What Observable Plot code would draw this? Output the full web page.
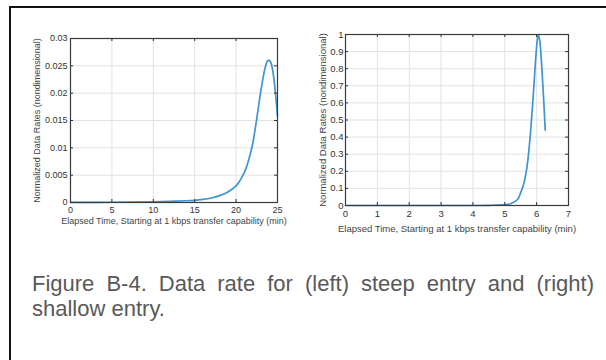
<!DOCTYPE html>
<html>
<head>
<meta charset="utf-8">
<script src="https://cdn.jsdelivr.net/npm/d3@7"></script>
<script src="https://cdn.jsdelivr.net/npm/@observablehq/plot@0.6"></script>
<style>
  body { margin: 0; background: #fff; }
  #page { position: relative; width: 606px; height: 360px; overflow: hidden; background: #fff;
          font-family: "Liberation Sans", Arial, sans-serif; }
  #frameTop { position: absolute; left: 9px; top: 6px; width: 597px; height: 2px; background: #111; }
  #frameLeft { position: absolute; left: 9px; top: 6px; width: 2px; height: 354px; background: #111; }
  #left { position: absolute; left: 20px; top: 25px; }
  #right { position: absolute; left: 300px; top: 20px; }
  #caption { position: absolute; left: 32px; top: 271px; width: 562px;
             font-family: "Liberation Sans Narrow", "Arial Narrow", sans-serif;
             font-size: 22px; line-height: 25px; color: #595959; text-align: justify; }
</style>
</head>
<body>
<div id="page">
  <div id="frameTop"></div>
  <div id="frameLeft"></div>
  <div id="left"></div>
  <div id="right"></div>
  <div id="caption"></div>
</div>
<script>
// ---------- data ----------
const leftTime = [0, 5, 10, 12, 14, 15, 16, 17, 18, 19, 20, 20.5, 21, 21.5, 22, 22.5, 23, 23.5, 23.8, 24, 24.2, 24.5, 24.8, 25];
const leftRate = [0.00002, 0.00005, 0.00012, 0.0002, 0.00032, 0.0004, 0.00057, 0.00083, 0.00125, 0.00194, 0.00305, 0.0041, 0.0055, 0.0077, 0.0107, 0.0154, 0.0205, 0.0246, 0.0259, 0.026, 0.0256, 0.0234, 0.0192, 0.0158];

const rightTime = [0, 1, 2, 3, 4, 4.5, 5, 5.2, 5.4, 5.5, 5.6, 5.7, 5.8, 5.9, 6.0, 6.05, 6.1, 6.15, 6.2, 6.27];
const rightRate = [0, 0, 0, 0, 0, 0.001, 0.005, 0.012, 0.035, 0.075, 0.13, 0.23, 0.41, 0.66, 0.93, 1.0, 0.96, 0.84, 0.69, 0.44];

const leftXTicks = [0, 5, 10, 15, 20, 25];
const leftYTicks = [0, 0.005, 0.01, 0.015, 0.02, 0.025, 0.03];
const leftYTickLabels = ["0", "0.005", "0.01", "0.015", "0.02", "0.025", "0.03"];

const rightXTicks = [0, 1, 2, 3, 4, 5, 6, 7];
const rightYTicks = [0, 0.1, 0.2, 0.3, 0.4, 0.5, 0.6, 0.7, 0.8, 0.9, 1];
const rightYTickLabels = ["0", "0.1", "0.2", "0.3", "0.4", "0.5", "0.6", "0.7", "0.8", "0.9", "1"];

const xLabel = "Elapsed Time, Starting at 1 kbps transfer capability (min)";
const yLabel = "Normalized Data Rates (nondimensional)";
const captionText = "Figure B-4. Data rate for (left) steep entry and (right) shallow entry.";

// ---------- chart builder ----------
function chart(o) {
  const data = o.time.map((t, i) => ({t, v: o.rate[i]}));
  const innerW = o.width - o.ml - o.mr;
  const innerH = o.height - o.mt - o.mb;
  const tick = 3;
  const fmt = d => o.yLabels[o.yTicks.indexOf(d)];
  return Plot.plot({
    width: o.width, height: o.height,
    marginLeft: o.ml, marginRight: o.mr, marginTop: o.mt, marginBottom: o.mb,
    style: {fontFamily: '"Liberation Sans", Arial, sans-serif', background: "transparent", overflow: "visible"},
    x: {domain: o.xDomain},
    y: {domain: o.yDomain},
    marks: [
      Plot.gridX(o.xTicks, {stroke: "#e2e2e2", strokeOpacity: 1}),
      Plot.gridY(o.yTicks, {stroke: "#e2e2e2", strokeOpacity: 1}),
      Plot.line(data, {x: "t", y: "v", stroke: "#3f95d3", strokeWidth: 1.7, curve: "catmull-rom"}),
      // inward ticks on four sides
      Plot.ruleX(o.xTicks, {x: d => d, insetTop: innerH - tick, stroke: "#333"}),
      Plot.ruleX(o.xTicks, {x: d => d, insetBottom: innerH - tick, stroke: "#333"}),
      Plot.ruleY(o.yTicks, {y: d => d, insetRight: innerW - tick, stroke: "#333"}),
      Plot.ruleY(o.yTicks, {y: d => d, insetLeft: innerW - tick, stroke: "#333"}),
      Plot.frame({stroke: "#3a3a3a", strokeWidth: 1.2}),
      Plot.axisX(o.xTicks, {tickSize: 0, tickPadding: o.xPad, fontSize: o.fs, fill: "#333", label: null}),
      Plot.axisY(o.yTicks, {tickSize: 0, tickPadding: o.yPad, fontSize: o.fs, fill: "#333", tickFormat: fmt, label: null}),
      Plot.text([xLabel], {frameAnchor: "bottom", dy: o.xLabDy, lineAnchor: "middle", text: d => d, fontSize: o.fs, fill: "#444"}),
      Plot.text([yLabel], {frameAnchor: "left", dx: o.yLabDx, rotate: -90, textAnchor: "middle", text: d => d, fontSize: o.fs, fill: "#444"})
    ]
  });
}

document.getElementById("left").append(chart({
  time: leftTime, rate: leftRate, xDomain: [0, 25], yDomain: [0, 0.03],
  xTicks: leftXTicks, yTicks: leftYTicks, yLabels: leftYTickLabels,
  width: 270, height: 215, ml: 50, mr: 13, mt: 13, mb: 38,
  fs: 9, xPad: 4, yPad: 3, xLabDy: 19, yLabDx: -33
}));

document.getElementById("right").append(chart({
  time: rightTime, rate: rightRate, xDomain: [0, 7], yDomain: [0, 1],
  xTicks: rightXTicks, yTicks: rightYTicks, yLabels: rightYTickLabels,
  width: 290, height: 220, ml: 45, mr: 22, mt: 14, mb: 35,
  fs: 9.5, xPad: 5, yPad: 2, xLabDy: 23, yLabDx: -23
}));

document.getElementById("caption").textContent = captionText;
</script>
</body>
</html>
